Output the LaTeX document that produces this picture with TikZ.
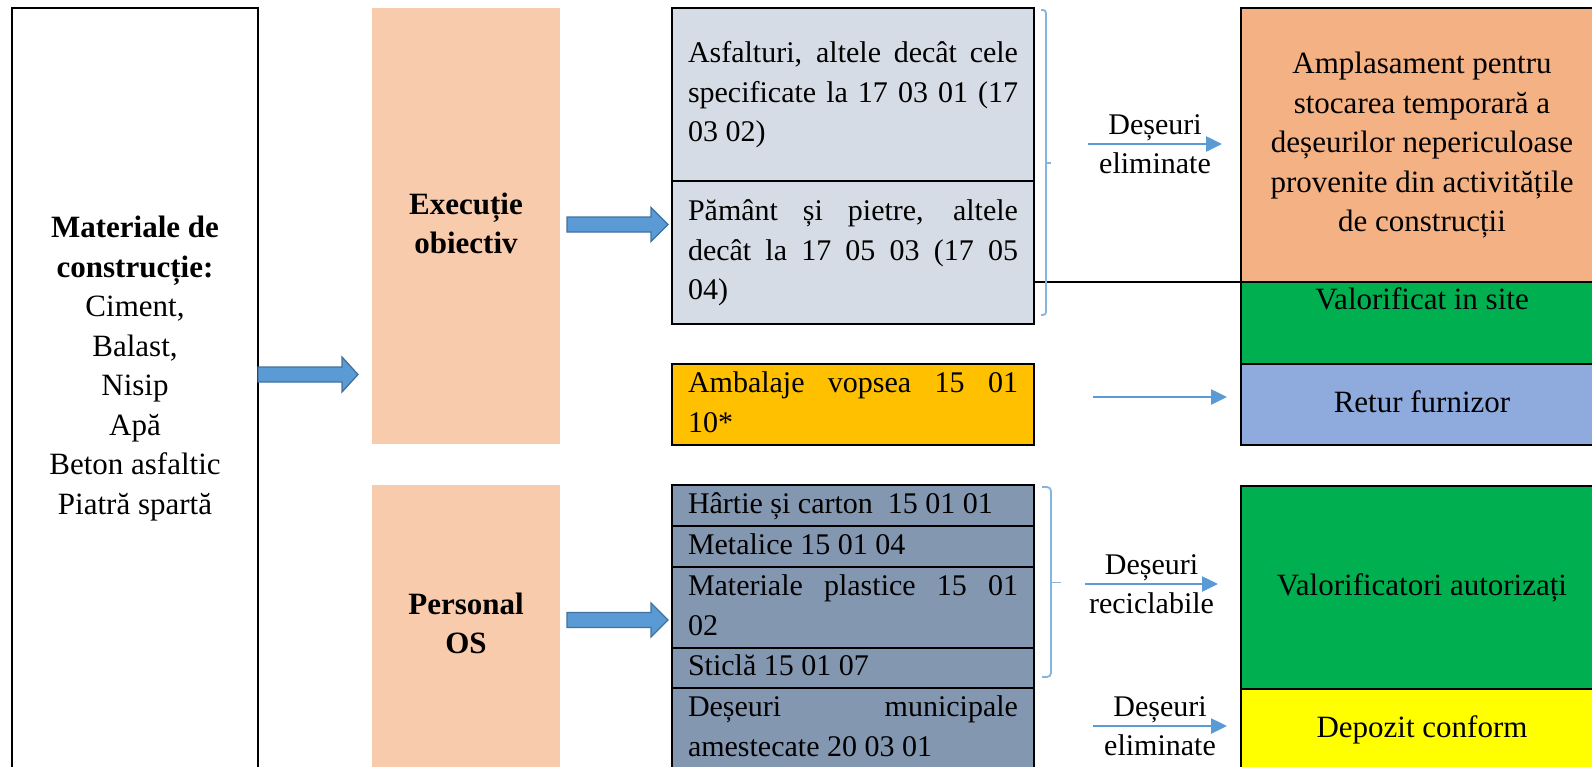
\documentclass[tikz,border=0pt]{standalone}
\usepackage{fontspec}
\setmainfont{Liberation Serif}
\usetikzlibrary{arrows.meta}
\definecolor{peach}{HTML}{F8CBAD}
\definecolor{greyl}{HTML}{D6DCE5}
\definecolor{greyd}{HTML}{8497B0}
\definecolor{amber}{HTML}{FFC000}
\definecolor{orng}{HTML}{F4B183}
\definecolor{grn}{HTML}{00B050}
\definecolor{blu}{HTML}{8FAADC}
\definecolor{ylw}{HTML}{FFFF00}
\definecolor{arfill}{HTML}{5B9BD5}
\definecolor{arline}{HTML}{41719C}
\newcommand\ns{\spaceskip=.25em\xspaceskip=.25em\relax}
\newcommand\jl[1]{\makebox[330pt][s]{\spaceskip=.25em plus 1fil\relax #1}}
\newcommand\fa{\fontsize{30}{39.5}\selectfont}
\newcommand\fb{\fontsize{31}{39.5}\selectfont}
\begin{document}
\begin{tikzpicture}[x=1pt,y=-1pt,
 box/.style={draw=black, line width=2pt, inner sep=0pt, outer sep=0pt, anchor=north west},
 midbox/.style={box, text width=330pt, inner xsep=16pt, inner ysep=0pt, align=left, font=\fa},
 rbox/.style={box, minimum width=362pt, text width=362pt, align=center, font=\fb},
 peachbox/.style={fill=peach, inner sep=0pt, outer sep=0pt, anchor=north west, minimum width=188pt, text width=188pt, align=center, font=\fb\bfseries},
 barrow/.style={fill=arfill, draw=arline, line width=1.3pt, line join=miter},
 thinarrow/.style={draw=arfill, line width=2.5pt, -{Triangle[length=16pt,width=15pt]}},
 brc/.style={draw=arfill!75!white, line width=1.8pt, rounded corners=3pt},
 lbl/.style={align=center, text width=150pt, font=\fa, inner sep=0pt}
]
\useasboundingbox (0,0) rectangle (1592,766);
\clip (0,0) rectangle (1592,766);

% left column
\node[box, minimum width=246pt, minimum height=800pt] (lm) at (12,8) {};
\node[font=\fb, align=center, text width=240pt, inner sep=0pt] (lmt) at (135,368)
  {\ns\strut\textbf{Materiale de}\\\textbf{construcție:}\\Ciment,\\Balast,\\Nisip\\Apă\\Beton asfaltic\\Piatră spartă\strut};

% peach boxes
\node[peachbox, minimum height=436pt] (ex) at (372,8) {\strut Execuție\\obiectiv\strut};
\node[peachbox, minimum height=282pt] (ps) at (372,485) {\strut Personal\\OS\strut};

% middle boxes
\node[midbox, fill=greyl, minimum height=173pt] (a1) at (672,8)
  {\ns\jl{\strut Asfalturi, altele decât cele}\\\jl{specificate la 17 03 01 (17}\\03 02)\strut};
\node[midbox, fill=greyl, minimum height=143pt] (a2) at (672,181)
  {\ns\jl{\strut Pământ și pietre, altele}\\\jl{decât la 17 05 03 (17 05}\\04)\strut};
\node[midbox, fill=amber, minimum height=81pt] (amb) at (672,364)
  {\ns\jl{\strut Ambalaje vopsea 15 01}\\10*\strut};
\node[midbox, fill=greyd, minimum height=41pt] (h1) at (672,485) {\ns\strut Hârtie și carton\ \ 15 01 01\strut};
\node[midbox, fill=greyd, minimum height=41pt] (h2) at (672,526) {\ns\strut Metalice 15 01 04\strut};
\node[midbox, fill=greyd, minimum height=81pt] (h3) at (672,567)
  {\ns\jl{\strut Materiale plastice 15 01}\\02\strut};
\node[midbox, fill=greyd, minimum height=40pt] (h4) at (672,648) {\ns\strut Sticlă 15 01 07\strut};
\node[midbox, fill=greyd, minimum height=81pt] (h5) at (672,688)
  {\ns\jl{\strut Deșeuri municipale}\\amestecate 20 03 01\strut};

% right boxes
\node[rbox, fill=orng, minimum height=274pt] (r1) at (1241,8)
  {\ns\strut Amplasament pentru\\stocarea temporară a\\deșeurilor nepericuloase\\provenite din activitățile\\de construcții\strut};
\node[rbox, fill=grn, minimum height=82pt] (r2) at (1241,282) {};
\node[font=\fb, inner sep=0pt] (r2t) at (1422,302) {\strut Valorificat in site};
\node[rbox, fill=blu, minimum height=81pt] (r3) at (1241,364) {\ns\strut Retur furnizor\strut};
\node[rbox, fill=grn, minimum height=203pt] (r4) at (1241,486) {\ns\strut Valorificatori autorizați\strut};
\node[rbox, fill=ylw, minimum height=81pt] (r5) at (1241,689) {\ns\strut Depozit conform\strut};

% block arrows
\draw[barrow] (lm.east |- 0,374.5) ++(0,-7.5) -- ++(84,0) -- ++(0,-10) -- ++(16,17.5)
  -- ++(-16,17.5) -- ++(0,-10) -- ++(-84,0) -- cycle;
\draw[barrow] (ex.east |- 0,224.5) ++(7,-7.5) -- ++(84,0) -- ++(0,-9.5) -- ++(17,17)
  -- ++(-17,17) -- ++(0,-9.5) -- ++(-84,0) -- cycle;
\draw[barrow] (ps.east |- 0,620) ++(7,-7.5) -- ++(84,0) -- ++(0,-9.5) -- ++(17,17)
  -- ++(-17,17) -- ++(0,-9.5) -- ++(-84,0) -- cycle;

% black line
\draw[line width=2pt] (a2.east |- r1.south west) -- (r1.south west);

% braces
\draw[brc] (1041,10) -- (1046,10) -- (1046,315) -- (1041,315);
\draw[brc] (1046,163) -- (1051,163);
\draw[brc, rounded corners=4pt] (1042,487) -- (1051,487) -- (1051,677) -- (1042,677);
\draw[brc] (1051,582.5) -- (1061,582.5);

% thin arrows
\coordinate (e1s) at (1088,144); \coordinate (e1e) at (1222,144);
\coordinate (rts) at (1093,397); \coordinate (rte) at (1227,397);
\coordinate (e2s) at (1085,584); \coordinate (e2e) at (1218,584);
\coordinate (e3s) at (1093,726); \coordinate (e3e) at (1227,726);
\draw[thinarrow] (e1s) -- node[lbl] (l1) {Deșeuri\\eliminate} (e1e);
\draw[thinarrow] (rts) -- (rte);
\draw[thinarrow] (e2s) -- node[lbl] (l2) {Deșeuri\\reciclabile} (e2e);
\draw[thinarrow] (e3s) -- node[lbl] (l3) {Deșeuri\\eliminate} (e3e);
\end{tikzpicture}
\end{document}
